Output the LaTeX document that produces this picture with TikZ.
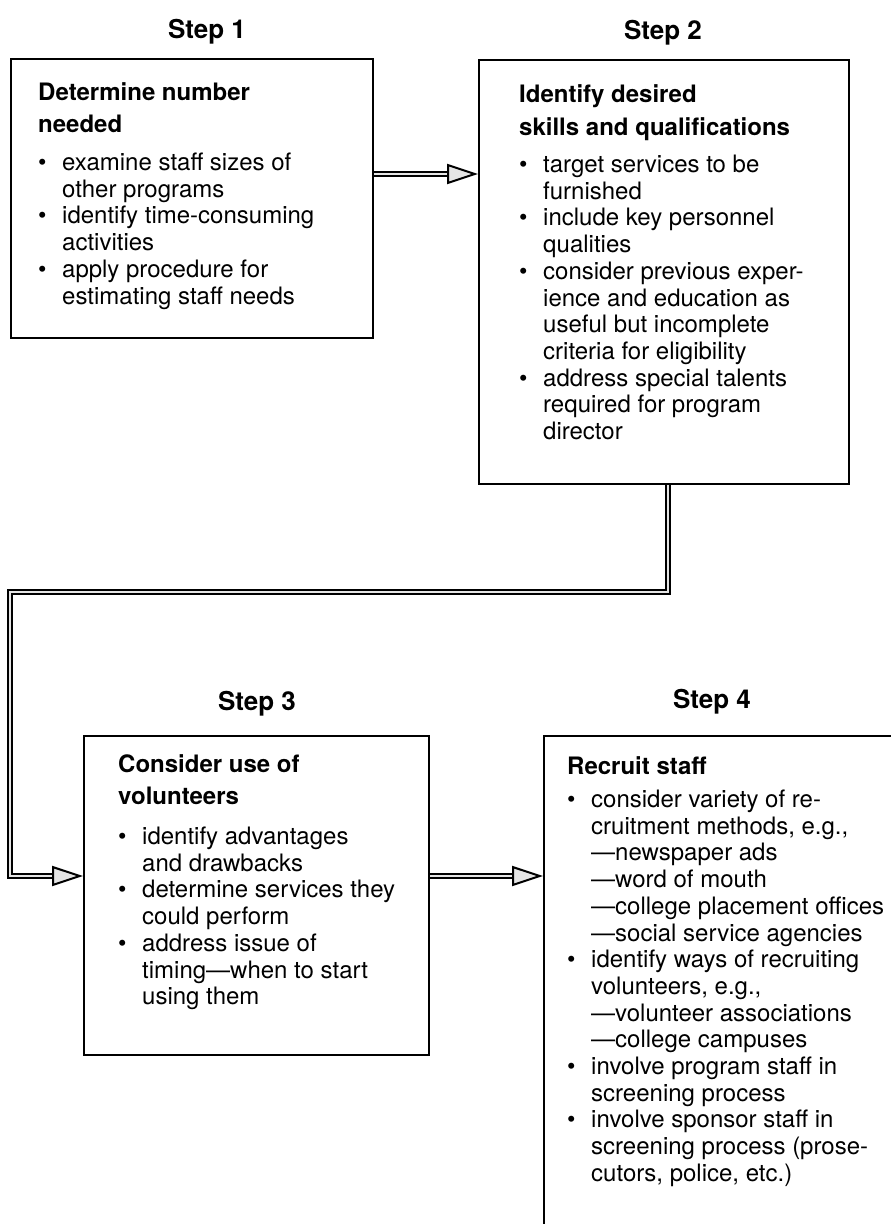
\documentclass[tikz,border=0pt]{standalone}
\usepackage{fontspec}
\setmainfont{TeX Gyre Heros}
\usetikzlibrary{arrows.meta}
\newcommand\bul{\makebox[24pt][l]{\textbullet}}
\newcommand\contd{\hspace*{24pt}}

\begin{document}
\begin{tikzpicture}[x=1pt, y=-1pt,
  box/.style={draw, line width=2.4pt, anchor=north west},
  steplabel/.style={anchor=base, font=\bfseries\fontsize{26}{30}\selectfont},
  txt/.style={anchor=north west, inner sep=0pt, align=left, font=\fontsize{24}{26.7}\selectfont},
  link/.style={line width=2pt, double=gray!20, double distance=2.4pt, -{Triangle[length=31pt, width=20pt, fill=gray!20]}}]
\clip (0,0) rectangle (891,1224);

\node[steplabel] (step1) at (207,38) {Step 1};
\node[steplabel] (step2) at (663,39) {Step 2};
\node[steplabel] (step3) at (257,710) {Step 3};
\node[steplabel] (step4) at (712,708) {Step 4};

\node[box, minimum width=362pt, minimum height=279pt] (box1) at (10,58) {};
\node[box, minimum width=370pt, minimum height=424pt] (box2) at (478,59) {};
\node[box, minimum width=345pt, minimum height=319pt] (box3) at (83,735) {};
\node[box, minimum width=420pt, minimum height=560pt] (box4) at (543,735) {};

\node[txt] (text1) at (38,82.5) {\textbf{Determine number}\\[5.3pt]\textbf{needed}\\[11.3pt]
  \bul examine staff sizes of\\\contd other programs\\
  \bul identify time-consuming\\\contd activities\\
  \bul apply procedure for\\\contd estimating staff needs};
\node[txt] (text2) at (519,84.5) {\textbf{Identify desired}\\[6.3pt]\textbf{skills and qualifications}\\[10.3pt]
  \bul target services to be\\\contd furnished\\
  \bul include key personnel\\\contd qualities\\
  \bul consider previous exper-\\\contd ience and education as\\\contd useful but incomplete\\\contd criteria for eligibility\\
  \bul address special talents\\\contd required for program\\\contd director};
\node[txt] (text3) at (118,754.5) {\textbf{Consider use of}\\[5.3pt]\textbf{volunteers}\\[13.3pt]
  \bul identify advantages\\\contd and drawbacks\\
  \bul determine services they\\\contd could perform\\
  \bul address issue of\\\contd timing---when to start\\\contd using them};
\node[txt] (text4) at (567,756.5) {\textbf{Recruit staff}\\[6.3pt]
  \bul consider variety of re-\\\contd cruitment methods, e.g.,\\
  \contd ---newspaper ads\\\contd ---word of mouth\\\contd ---college placement offices\\\contd ---social service agencies\\
  \bul identify ways of recruiting\\\contd volunteers, e.g.,\\
  \contd ---volunteer associations\\\contd ---college campuses\\
  \bul involve program staff in\\\contd screening process\\
  \bul involve sponsor staff in\\\contd screening process (prose-\\\contd cutors, police, etc.)};

\coordinate (row1) at (0,174);
\coordinate (row3) at (0,876);
\coordinate (turnA) at (668,592);
\coordinate (turnB) at (10,592);
\coordinate (turnC) at (10,876);
\draw[link] (box1.east |- row1) -- (box2.west |- row1);
\draw[link] (box2.south -| turnA) -- (turnA) -- (turnB) -- (turnC) -- (box3.west |- row3);
\draw[link] (box3.east |- row3) -- (box4.west |- row3);

\end{tikzpicture}
\end{document}
